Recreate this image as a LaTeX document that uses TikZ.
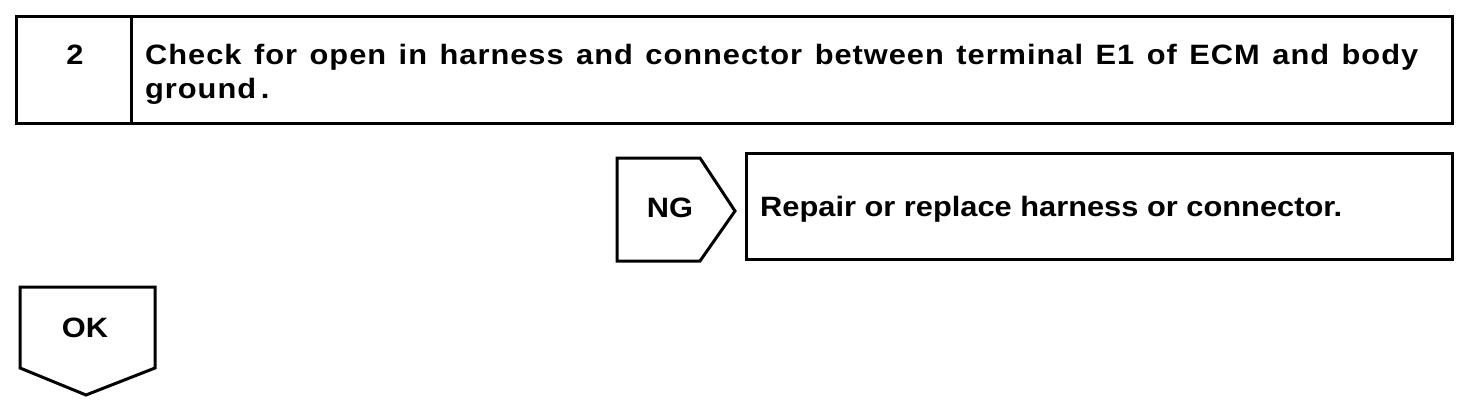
\documentclass[tikz,border=0pt]{standalone}
\usepackage{fontspec}
\setmainfont{Liberation Sans}[FakeStretch=1.1]
\tikzset{
  frame/.style={draw=black, line width=3pt, line join=miter},
  lbl/.style={font=\fontsize{28}{34}\selectfont\bfseries, inner sep=0pt},
  spaced/.style={font=\fontsize{28}{34}\selectfont\bfseries\addfontfeatures{LetterSpace=3.5}},
}
\begin{document}
\begin{tikzpicture}[x=1pt,y=-1pt]
\useasboundingbox (0,0) rectangle (1472,412);
% step box
\draw[frame] (16,17) rectangle (1452,123);
\draw[frame] (131,17) -- (131,123);
\node[lbl, anchor=base] (num) at (75,65) {2};
\node[lbl, spaced, anchor=base west] (q1) at (145,65) {\makebox[1273pt][s]{Check for open in harness and connector between terminal E1 of ECM and body}};
\node[lbl, spaced, anchor=base west] (q2) at (145,99) {ground\,.};
% NG pentagon
\draw[frame] (617,158) -- (700,158) -- (735,211) -- (700,261) -- (617,261) -- cycle;
\node[lbl, anchor=base] (ng) at (670,217) {NG};
% repair box
\draw[frame] (746,153) rectangle (1452,259);
\node[lbl, anchor=base west] (rep) at (760,216) {Repair or replace harness or connector.};
% OK pentagon
\draw[frame] (20,287) -- (155,287) -- (155,368) -- (86,395) -- (20,368) -- cycle;
\node[lbl, anchor=base] (ok) at (85,337) {OK};
\end{tikzpicture}
\end{document}
